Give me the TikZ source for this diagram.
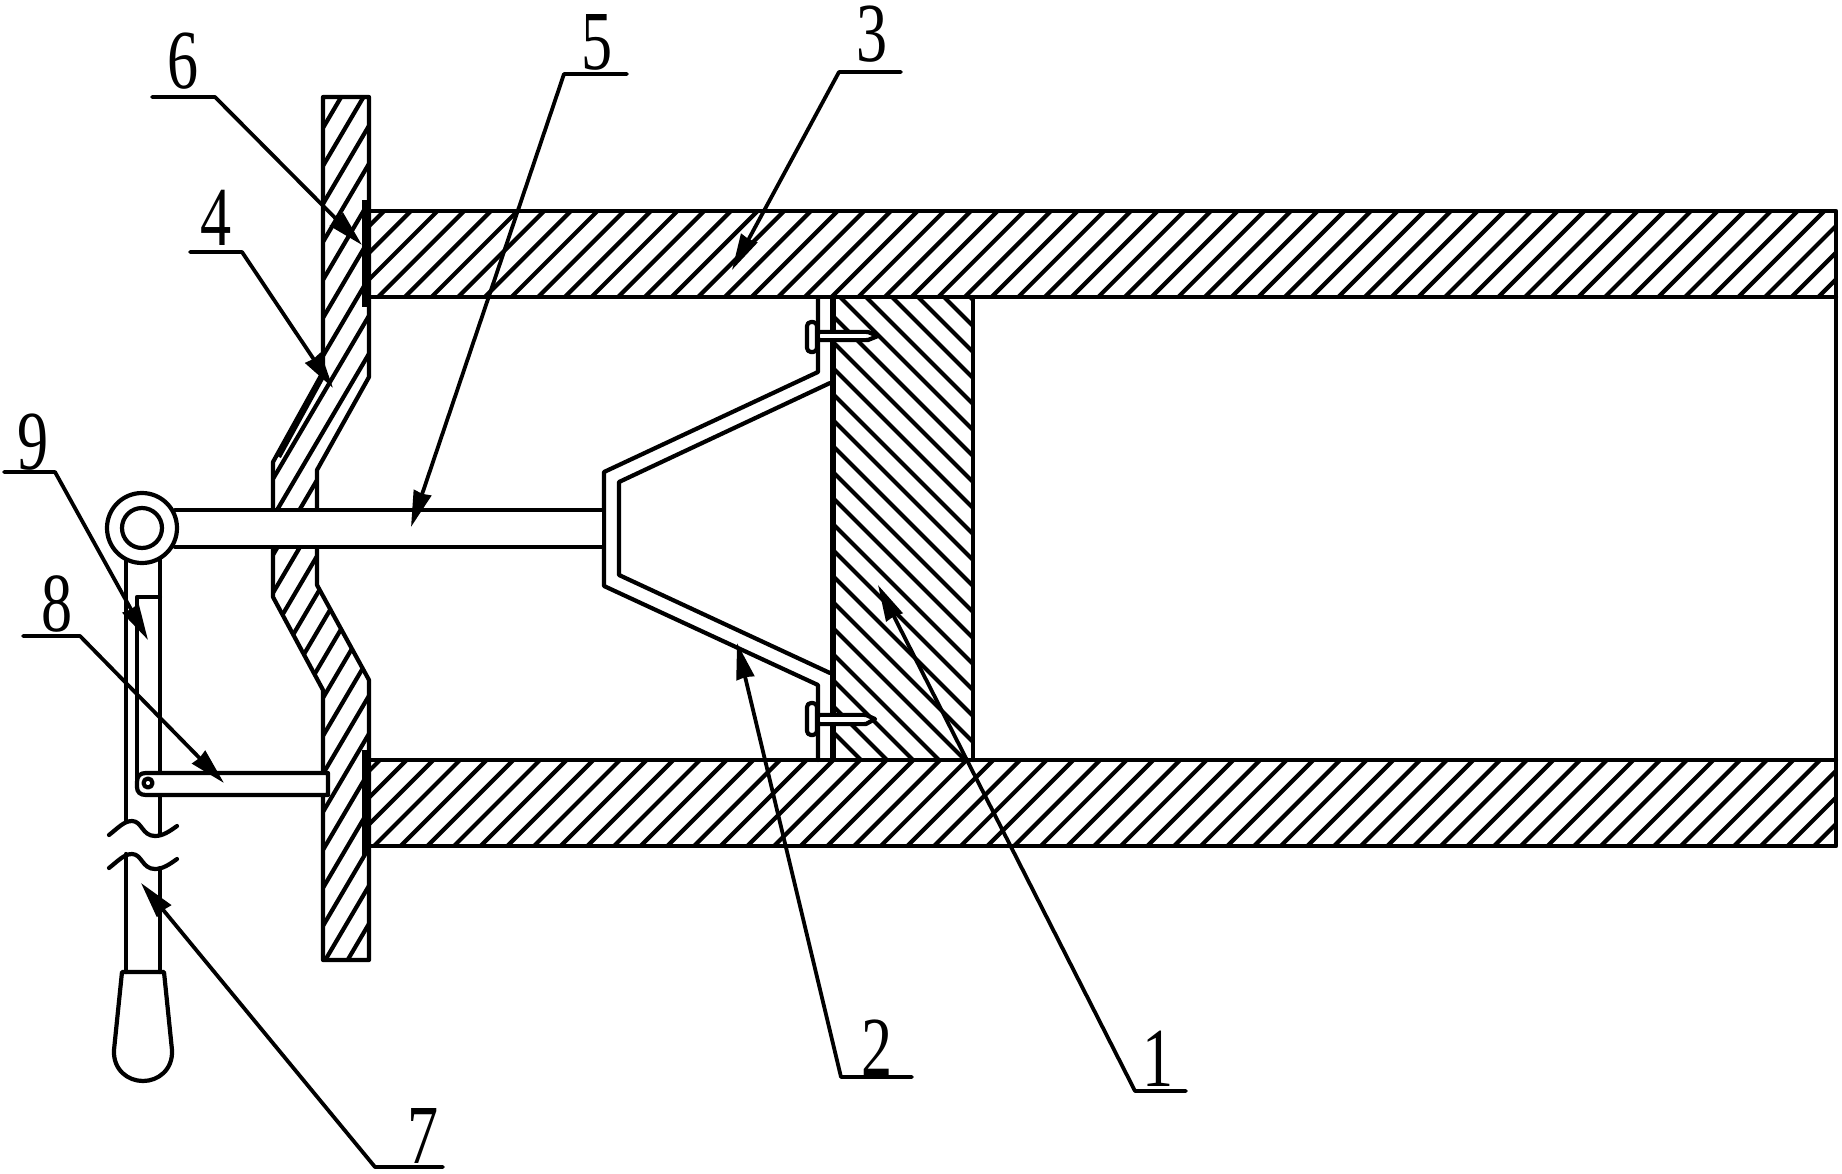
\documentclass[tikz,border=0pt]{standalone}
\usepackage{fontspec}
\setmainfont{Liberation Serif}
\usetikzlibrary{arrows.meta}
\tikzset{
  part/.style={draw=black,line width=2.1pt,line join=round,line cap=round},
  hatchline/.style={draw=black,line width=2.1pt},
  thickbar/.style={fill=black,draw=none},
  leader/.style={draw=black,line width=1.9pt,line join=round,line cap=round,
    -{Stealth[length=18pt,width=9pt,inset=0.5pt]}},
  digit/.style={inner sep=0pt,outer sep=0pt,anchor=center,font=\fontsize{42}{42}\selectfont}
}
\newcommand{\dg}[1]{\scalebox{.74}[1]{#1}}
\begin{document}
\begin{tikzpicture}[x=0.5pt,y=-0.5pt]
\useasboundingbox (0,0) rectangle (1842,1173);
% ---- tube walls
\begin{scope}
\clip (369,211) rectangle (1836,297);
\foreach \i in {0,...,60}{
  \pgfmathsetmacro\c{2142-26.67*\i}
  \draw[hatchline] ({\c-205},205) -- ({\c-303},303);
}
\end{scope}
\begin{scope}
\clip (369,760) rectangle (1836,846);
\foreach \i in {-14,...,48}{
  \pgfmathsetmacro\c{1460+26.67*\i}
  \draw[hatchline] ({\c-754},754) -- ({\c-852},852);
}
\end{scope}
\draw[part] (369,211) -- (1836,211) -- (1836,846) -- (369,846);
\draw[part] (369,297) -- (1836,297);
\draw[part] (369,760) -- (1836,760);
% ---- piston 1
\begin{scope}
\clip (833,297) rectangle (973,760);
\foreach \i in {-16,...,8}{
  \pgfmathsetmacro\c{491+26*\i}
  \draw[hatchline] ({\c+290},290) -- ({\c+770},770);
}
\end{scope}
\draw[part] (973,297) -- (973,760);
\draw[draw=black,line width=2.7pt] (833,297) -- (833,760);
% ---- plate 4
\def\platepath{(323,97) -- (369,97) -- (369,377) -- (317,470) -- (317,585) -- (369,680) -- (369,960) -- (323,960) -- (323,690) -- (273,597) -- (273,462) -- (323,372) -- cycle}
\begin{scope}
\clip \platepath;
\foreach \i in {-5,...,22}{
  \pgfmathsetmacro\c{753+38*\i}
  \draw[hatchline] (268,{\c-1.7*268}) -- (374,{\c-1.7*374});
}
\draw[hatchline] (279,457) -- (325,373);
\end{scope}
\draw[part] \platepath;
\fill[thickbar] (362,200) rectangle (370,307);
\fill[thickbar] (362,750) rectangle (370,855);
% ---- bracket 2
\draw[part] (818,297) -- (818,372) -- (604,472) -- (604,586) -- (818,685) -- (818,760);
\draw[part] (830,383) -- (619,482) -- (619,575) -- (830,673);
% ---- screws
\draw[part,rounded corners=2pt] (817,322) -- (807,322) -- (807,352) -- (817,352) -- cycle;
\draw[part,fill=white] (820,332) -- (868,332) -- (878,336) -- (868,340) -- (820,340);
\fill[white] (821,334) rectangle (866,338);
\draw[part,rounded corners=2pt] (817,703) -- (807,703) -- (807,735) -- (817,735) -- cycle;
\draw[part,fill=white] (820,715) -- (866,715) -- (875,719) -- (866,724) -- (820,724);
\fill[white] (821,717) rectangle (864,722);
% ---- lever 7
\draw[part] (126,555) -- (126,821);
\draw[part] (160,555) -- (160,835);
\draw[part] (126,854) -- (126,972);
\draw[part] (160,868) -- (160,972);
\draw[part] (109,835) .. controls (118,828) and (124,821) .. (132,821) .. controls (142,821) and (142,836) .. (155,836) .. controls (163,836) and (170,831) .. (177,826);
\draw[part] (109,868) .. controls (118,861) and (124,854) .. (132,854) .. controls (142,854) and (142,869) .. (155,869) .. controls (163,869) and (170,864) .. (177,859);
\draw[part] (122,972) -- (164,972) -- (172,1050) .. controls (173,1070) and (158,1081) .. (143,1081) .. controls (128,1081) and (113,1070) .. (114,1050) -- cycle;
% ---- latch 9
\draw[part] (160,597) -- (137,597) -- (137,785);
% ---- rod 5 and ring
\draw[part,fill=white] (175,510) -- (604,510) -- (604,547) -- (175,547);
\fill[white] (175,512) rectangle (602,545);
\draw[part,fill=white] (142,528) circle[radius=35];
\draw[part,fill=white] (142,528) circle[radius=20];
% ---- bar 8
\draw[part,fill=white] (328,773) -- (146,773) .. controls (140,773) and (137,776) .. (137,782) -- (137,787) .. controls (137,792) and (140,795) .. (146,795) -- (328,795) -- cycle;
\draw[part] (148,783) circle[radius=4.5];
% ---- labels and leaders
\node[digit] (n1) at (1158,1059) {\dg{1}};
\node[digit] (n2) at (877,1048) {\dg{2}};
\node[digit] (n3) at (872,34) {\dg{3}};
\node[digit] (n4) at (216,218) {\dg{4}};
\node[digit] (n5) at (597,42) {\dg{5}};
\node[digit] (n6) at (183,61) {\dg{6}};
\node[digit] (n7) at (423,1136) {\dg{7}};
\node[digit] (n8) at (57,604) {\dg{8}};
\node[digit] (n9) at (33,442) {\dg{9}};
\coordinate (u1a) at (1186,1091); \coordinate (u1b) at (1135,1091); \coordinate (t1) at (878,585);
\coordinate (u2a) at (912,1077);  \coordinate (u2b) at (841,1077);  \coordinate (t2) at (737,643);
\coordinate (u3a) at (901,72);    \coordinate (u3b) at (839,72);    \coordinate (t3) at (732,270);
\coordinate (u4a) at (190,252);   \coordinate (u4b) at (242,252);   \coordinate (t4) at (333,388);
\coordinate (u5a) at (627,74);    \coordinate (u5b) at (564,74);    \coordinate (t5) at (411,527);
\coordinate (u6a) at (152,97);    \coordinate (u6b) at (215,97);    \coordinate (t6) at (362,245);
\coordinate (u7a) at (443,1167);  \coordinate (u7b) at (375,1167);  \coordinate (t7) at (141,883);
\coordinate (u8a) at (23,636);    \coordinate (u8b) at (80,636);    \coordinate (t8) at (224,783);
\coordinate (u9a) at (4,472);     \coordinate (u9b) at (55,472);    \coordinate (t9) at (148,640);
\foreach \k in {1,...,9}{
  \draw[leader] (u\k a) -- (u\k b) -- (t\k);
}
\end{tikzpicture}
\end{document}
